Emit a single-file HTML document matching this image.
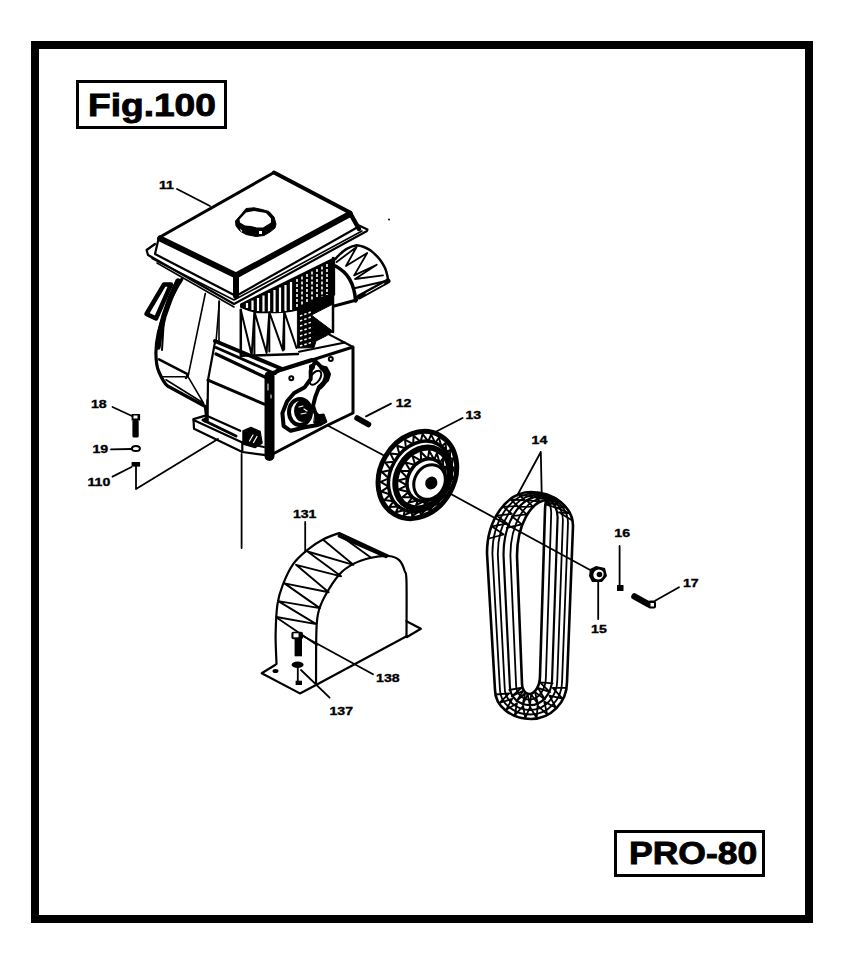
<!DOCTYPE html>
<html><head><meta charset="utf-8">
<style>
html,body{margin:0;padding:0;background:#fff;}
body{width:848px;height:956px;position:relative;overflow:hidden;font-family:"Liberation Sans",sans-serif;}
.frame{position:absolute;left:31px;top:41px;width:766px;height:866px;border:8px solid #000;}
.box{position:absolute;border:3px solid #000;box-sizing:border-box;font-weight:bold;color:#000;white-space:nowrap;}
#fig{left:76px;top:80px;width:151px;height:49px;}
#pro{left:614px;top:830px;width:151px;height:47px;}
.t{position:absolute;font-weight:bold;line-height:1;-webkit-text-stroke:0.9px #000;}
svg{position:absolute;left:0;top:0;}
.lbl{font-family:"Liberation Sans",sans-serif;font-weight:bold;fill:#000;stroke:#000;stroke-width:0.35px;}
.s{fill:none;stroke:#000;stroke-linecap:round;stroke-linejoin:round;}
</style></head><body>
<div class="frame"></div>
<div class="box" id="fig"><span class="t" style="left:9px;top:6px;font-size:32px;transform:scaleX(1.16);transform-origin:0 0;">Fig.100</span></div>
<div class="box" id="pro"><span class="t" style="left:12px;top:4px;font-size:32px;transform:scaleX(1.11);transform-origin:0 0;">PRO-80</span></div>
<svg width="848" height="956" viewBox="0 0 848 956">
<g class="lbl">
<text x="0" y="0" transform="translate(159.00 189.45) scale(1.250 1)" font-size="11.30">11</text>
<text x="0" y="0" transform="translate(91.00 407.95) scale(1.250 1)" font-size="11.30">18</text>
<text x="0" y="0" transform="translate(92.40 452.55) scale(1.250 1)" font-size="11.30">19</text>
<text x="0" y="0" transform="translate(87.50 486.40) scale(1.250 1)" font-size="11.30">110</text>
<text x="0" y="0" transform="translate(395.70 406.55) scale(1.250 1)" font-size="11.30">12</text>
<text x="0" y="0" transform="translate(465.40 418.65) scale(1.250 1)" font-size="11.30">13</text>
<text x="0" y="0" transform="translate(531.60 444.45) scale(1.250 1)" font-size="11.30">14</text>
<text x="0" y="0" transform="translate(591.10 632.85) scale(1.250 1)" font-size="11.30">15</text>
<text x="0" y="0" transform="translate(614.30 536.80) scale(1.250 1)" font-size="11.30">16</text>
<text x="0" y="0" transform="translate(683.00 587.05) scale(1.250 1)" font-size="11.30">17</text>
<text x="0" y="0" transform="translate(292.90 517.85) scale(1.250 1)" font-size="11.30">131</text>
<text x="0" y="0" transform="translate(329.50 715.35) scale(1.250 1)" font-size="11.30">137</text>
<text x="0" y="0" transform="translate(376.05 682.25) scale(1.250 1)" font-size="11.30">138</text>
</g>

<!-- leaders and axis lines -->
<g class="s" stroke-width="1.8">
<path d="M177,189 L210,206"/>
<path d="M112.5,407 L132,416"/>
<path d="M111,449.4 L131.5,449"/>
<path d="M112.5,476.6 L131.5,467"/>
<path d="M136,466 L136,489 L218,439"/>
<path d="M241.6,454 L241.6,548"/>
<path d="M328.6,426 L383,455"/>
<path d="M449,493 L592,571"/>
<path d="M391,403.6 L366,416.4"/>
<path d="M462.6,418 L434.3,432.5"/>
<path d="M540.8,452 L517.2,495.5 M540.8,452 L541.7,493.6"/>
<path d="M619.6,546 L619.6,586"/>
<path d="M598.2,582.6 L598.2,619"/>
<path d="M679,587.3 L655.1,600.8"/>
<path d="M305.2,522 L305.2,552"/>
<path d="M303,636 L373,674.3"/>
<path d="M301,670 L329.6,697.6"/>
<path d="M297.8,668 L297.8,684"/>
</g>



<!-- engine 11 -->
<g class="s">
<!-- tank top face -->
<path stroke-width="3" d="M160,237 L274,172.5"/>
<path stroke-width="4" d="M274,172.5 L350,212.5"/>
<path stroke-width="6" d="M160,238.5 L236,275.5 L350,214"/>
<!-- tank sides -->
<path stroke-width="2.2" d="M158.5,239 L155,254 L236,296 L358,227"/>
<path stroke-width="4.5" d="M350,213 L359,229"/>
<path stroke-width="6" d="M236,276 L236,296"/>
<!-- lip flange -->
<path stroke-width="2.2" d="M155,244 L146.6,250 L148,255 L234,304 L367,231 L367.5,229.5 L359,225.5"/>
<path stroke-width="1.6" d="M152,258.5 L234,300 L362,231"/>
<path stroke-width="1.6" d="M157,263 L234,307"/>
</g>
<!-- cap -->
<g>
<path d="M235.5,221 L242,213.5 L246,208.5 L254,207.8 L262,209.5 L269,211.5 L274,217 L276,224 L275,228 L270,232 L264,235.5 L256,236.5 L246,234.5 L240,231 L236,226 Z" fill="#000" stroke="#000" stroke-width="1"/>
<path d="M239.5,219.5 L246,212.5 L254,211 L266,213 L271,218.5 L271,222.5 L263,227.5 L257,227.5 L251,226 L245,225.5 L240,222.5 Z" fill="#fff"/>
<path d="M240,228.5 L242.5,231 L241,232 Z M259,231 L262,231 L262,234 L259,234 Z" fill="#fff"/>
</g>


<!-- engine lower -->
<g class="s">
<!-- fins -->
<path d="M240.8,304.2 L334.4,258 L334.4,294.8 C322,300 311,304.2 297.8,309.7 C287,312.5 277,313 257,312.4 C250,311 245,309 240.8,307 Z" fill="#000" stroke="#000" stroke-width="1.5"/>
<path stroke="#fff" stroke-width="2.2" stroke-linecap="butt" d="M247,303 L247,308 M252.5,300.5 L252.5,310 M258,298 L258,311 M263.5,295.5 L263.5,311.5 M269,293 L269,312 M274.5,290 L274.5,312 M280,287.5 L280,312 M285.5,285 L285.5,311 M291,282 L291,310"/>
<path stroke="#fff" stroke-width="1.6" stroke-dasharray="3 2" stroke-linecap="butt" d="M297,279 L297,307 M302,276.5 L302,305 M307,274 L307,303 M312,271.5 L312,301 M317,269 L317,299 M322,266.5 L322,297 M327,264 L327,295"/>
<path stroke-width="2.5" d="M333,258 L333,332"/>
<!-- cylinder dark -->
<path d="M297.8,309 L314,303 L333,295 L333,304 L311.4,315 L333,331.4 L326,336 L316,341 L314,347.6 L297.8,348 Z" fill="#000" stroke="#000" stroke-width="1"/>
<path stroke="#fff" stroke-width="1.5" stroke-dasharray="2.5 2" stroke-linecap="butt" d="M300,316 L311,312 M300,321 L311,317 M300,326 L312,322 M300,331 L313,327 M300,336 L313,332 M300,341 L313,337 M300,346 L313,342"/>
<path fill="#fff" stroke="none" d="M313.5,316 L331,306 L331,329 Z"/>
<!-- NNN -->
<path stroke-width="2.5" d="M240.8,309.7 L240.8,355.8 L298,354"/>
<path stroke-width="2" d="M240.8,310 L251.7,355 L254.4,311.5 L254.4,354 M254.4,311.5 L266.6,353 L269.3,312 L269.3,351.5 M269.3,312 L282.9,350.5 L284.2,311.5 L284.2,349.5 M284.2,311.5 L296.5,348"/>
<!-- right shroud -->
<path stroke-width="2.5" d="M335.4,259 C342,251 349,246.5 356.6,245.3 C363,246 367,248 370.8,250.6 C375,254 378,257 380.2,260 C383,264 385,267 386,270.7 C387,274 388,277 388,280.5"/>
<path stroke-width="5" d="M388,281 L359,297"/>
<path stroke="#fff" stroke-width="1" d="M384,283.5 L366,293.5"/>
<path stroke-width="3.5" d="M335.4,266 C341,269 346,273 349.5,279 C353,285 355,292 355.6,301"/>
<path stroke-width="3" d="M334.2,306 L356.6,300"/>
<path stroke-width="1.8" d="M336.6,262 L356.6,247 L346,266 L367.2,253 L354.2,275.4 L376.7,264.8 L355,279 L383,275.4 M355.5,288 L386,281"/>
<!-- recoil housing left -->
<path stroke-width="3.2" d="M181.8,279.4 C176,288 170,300 165,313 C159,327 156,340 155.9,353.1 C156,362 157,368 159,372 C162,379 165,384 167.6,386 L205.3,406.5 L207,419"/>
<path stroke-width="5.5" d="M178,281 C173,291 168,303 164,316 C161,326 159,336 158,347"/>
<path stroke-width="2" d="M176,282 C171,292 167,305 164,318 L162,350"/>
<path stroke-width="4.5" d="M146.5,314 L164,284.5 L171,284.5 L156,318.5 Z"/>
<path stroke-width="1.6" d="M205.3,293.5 L188,376.7 M219.4,301.4 L216,342"/>
<path stroke-width="2.5" d="M159,359.4 L188,374.3 L186,378"/>
<path stroke-width="1.6" d="M161.4,376.7 L185,376.7 M166,379.8 L203.7,403.3 L188,376.7"/>
<path stroke-width="1.6" d="M219,301 L219,342"/>
<!-- lower box left face -->
<path stroke-width="2.2" d="M215,342 L208,380 L207.5,416"/>
<path stroke-width="4" d="M215,341 L281,368.5"/>
<path stroke-width="2.8" d="M216,347.5 L275,373.5"/>
<path stroke-width="3.2" d="M216,354 L269,379"/>
<path stroke-width="3" d="M275,373.5 L281,368.5"/>
<path stroke-width="3" d="M208,380.1 L264.2,404.2"/>
<path stroke-width="6" d="M268,376 L268,457"/>
<!-- gearbox face -->
<path stroke-width="3" d="M268,374 L353,347 L353,413 L326,426 L268,456.5"/>
<path stroke-width="4" d="M277,371 L312,360"/>
<path stroke-width="2" d="M319.5,329.3 L353,347"/>
<path stroke-width="2" d="M299,351.8 L345,342.4"/>
<path stroke-width="10" d="M269.5,376 L269.5,456"/>
<path stroke="#fff" stroke-width="1" d="M268,384 L268,390 M271,395 L271,398"/>
<!-- gear cover -->
<path stroke-width="4" d="M315.4,361.2 L321.3,367.1 L326,368.3 L329,374.2 L327.2,380 L319,387.2 L315.4,396.6 L313,406 L315.4,413.1 L322.5,420.2 L317.8,425 L304.8,427.3 L290.7,430.8 L283.6,426 L282.4,413 L287.1,401.3 L294.2,393 L304.8,387.2 L310.7,379 L310.7,370.7 Z"/>
<ellipse cx="315.4" cy="377.7" rx="4.5" ry="8" transform="rotate(35 315.4 377.7)" stroke-width="2"/>
<path stroke-width="5" d="M322,368 C328,372 328,380 320,387"/>
<ellipse cx="300" cy="412" rx="11" ry="13" stroke-width="4"/>
<ellipse cx="303" cy="411" rx="8" ry="10" fill="#000" stroke-width="2"/>
<path stroke="#fff" stroke-width="1.2" d="M299,407 L303,406 M301,414 L306,413 M304,409 L307,411"/>
<path d="M315,415 L324,414 L327,422 L320,426 L314,423 Z" fill="#000"/>
<circle cx="330.8" cy="358.9" r="2" stroke-width="2"/>
<circle cx="291.3" cy="378.3" r="2" stroke-width="2"/>
<circle cx="311.9" cy="367" r="2" stroke-width="2"/>
<!-- base foot -->
<path stroke-width="2" d="M207.3,400 L207.3,415"/>
<path stroke-width="2.2" d="M206.2,415.4 L193.5,419.1 L194,428.7 L242.3,452 L265.7,455.2"/>
<path stroke-width="2.2" d="M193.5,420 L242.3,442.5 L242.3,452 M206.2,415.4 L240.2,430.8"/>
<path stroke-width="3" d="M203,420 L236,436"/>
<circle cx="206" cy="420" r="2.8" fill="#000" stroke="none"/>
<path d="M243,431 L251,427.5 L260,431.5 L262,443 L255,447.5 L243,444 Z" fill="#000" stroke="#000" stroke-width="1.5"/>
<path stroke="#fff" stroke-width="1.2" d="M249.5,441 L253,435 M253.5,442.5 L257,436.5"/>
<path stroke-width="2" d="M242.3,442.5 L264,447"/>
</g>

<!-- guard 131 -->
<g class="s" stroke-width="2.2">
<path d="M276.5,664.0 C276.4,659.1 275.5,644.6 275.6,634.7 C275.8,624.8 276.2,612.9 277.4,604.6 C278.6,596.3 280.0,591.9 282.7,585.1 C285.3,578.4 289.2,569.8 293.3,563.9 C297.4,558.0 302.4,553.9 307.5,549.8 C312.5,545.6 318.1,542.0 323.4,539.2 C328.7,536.4 336.6,534.0 339.3,533.0 L388.8,556"/>
<path stroke-width="3.5" d="M339.3,535.8 L386,556.5"/>
<path d="M316.0,685.0 C316.1,676.6 316.0,646.6 316.3,634.7 C316.6,622.8 316.6,619.9 318.1,613.4 C319.5,607.0 321.6,602.2 325.1,595.8 C328.7,589.3 334.6,579.8 339.3,574.5 C344.0,569.2 348.1,566.7 353.4,563.9 C358.8,561.1 365.2,559.1 371.1,557.7 C377.0,556.4 384.1,555.5 388.8,556.0 C393.5,556.4 396.8,557.9 399.4,560.4 C402.1,562.9 403.6,567.5 404.7,571.0 C405.9,574.5 406.2,570.6 406.5,581.6 C406.8,592.6 406.5,627.8 406.5,637.0"/>
<path stroke-width="1.9" d="M323.4,540.0 L353.4,564.8 L307.5,551.5 L341.1,576.3 L296.0,564.8 L328.7,592.2 L284.5,583.4 L319.8,608.1 L278.3,601.1 L316.3,624.1 L276.5,617.0"/>
<path stroke-width="1.9" d="M339.3,534.7 L371.1,557.7"/>
<path d="M275.5,664.7 L261.7,673.2 L299.9,693.4 L316,685 L407,636"/>
<path d="M406.5,621.2 L420.9,628.7 L407,637"/>
<path stroke-width="1.8" d="M276.5,617.5 L317,645"/>
</g>
<ellipse cx="275.5" cy="671" rx="3" ry="2" fill="#000"/>





<!-- pulley 13 -->
<g transform="translate(417.4,475) rotate(-60)" class="s">
<ellipse cx="0" cy="0" rx="45.5" ry="37" stroke-width="5"/>
<path stroke-width="2" d="M43.0,0.0 L36.7,6.6 L41.8,8.3 L34.6,13.5 L38.1,16.0 L30.5,19.8 L32.2,22.9 L24.5,25.1 L24.4,28.4 L17.2,29.1 L15.2,32.3 L8.9,31.6 L5.2,34.2 L-0.0,32.5 L-5.2,34.2 L-8.9,31.6 L-15.2,32.3 L-17.2,29.1 L-24.4,28.4 L-24.5,25.1 L-32.2,22.9 L-30.5,19.8 L-38.1,16.0 L-34.6,13.5 L-41.8,8.3 L-36.7,6.6 L-43.0,-0.0 L-36.7,-0.6 L-41.8,-8.3 L-34.6,-7.5 L-38.1,-16.0 L-30.5,-13.8 L-32.2,-22.9 L-24.5,-19.1 L-24.4,-28.4 L-17.2,-23.1 L-15.2,-32.3 L-8.9,-25.6 L-5.2,-34.2 L-0.0,-26.5 L5.2,-34.2 L8.9,-25.6 L15.2,-32.3 L17.2,-23.1 L24.4,-28.4 L24.5,-19.1 L32.2,-22.9 L30.5,-13.8 L38.1,-16.0 L34.6,-7.5 L41.8,-8.3 L36.7,-0.6 L43.0,0.0"/>
<ellipse cx="0" cy="3" rx="37" ry="29.5" stroke-width="3.5"/>
<ellipse cx="0" cy="6" rx="32" ry="25.5" stroke-width="6"/>
<path stroke-width="2" d="M28.5,6.0 L21.7,13.1 L26.8,13.9 L19.1,19.0 L21.8,20.8 L14.1,23.8 L14.3,25.9 L7.5,26.9 L4.9,28.7 L0.0,28.0 L-4.9,28.7 L-7.5,26.9 L-14.2,25.9 L-14.1,23.8 L-21.8,20.8 L-19.1,19.0 L-26.8,13.9 L-21.7,13.1 L-28.5,6.0 L-21.7,6.9 L-26.8,-1.9 L-19.1,1.0 L-21.8,-8.8 L-14.1,-3.8 L-14.3,-13.9 L-7.5,-6.9 L-4.9,-16.7 L-0.0,-8.0 L4.9,-16.7 L7.5,-6.9 L14.2,-13.9 L14.1,-3.8 L21.8,-8.8 L19.1,1.0 L26.8,-1.9 L21.7,6.9 L28.5,6.0"/>
<ellipse cx="0" cy="10" rx="22" ry="18" stroke-width="3.5"/>
<ellipse cx="0" cy="14" rx="18" ry="15" fill="#fff" stroke-width="3"/>
<ellipse cx="0" cy="16" rx="6.5" ry="6" fill="#000" stroke="none"/>
</g>

<!-- belt 14 -->
<g class="s">
<path stroke-width="2.6" d="M487.0,553.0 C487.0,519.5 506.8,492.0 531.0,492.0 C554.1,492.0 573.0,507.3 573.0,526.0 C573.0,526.0 567.0,682.0 567.0,682.0 C567.0,702.4 550.8,719.0 531.0,719.0 C511.2,719.0 495.0,706.0 495.0,690.0 C495.0,690.0 487.0,553.0 487.0,553.0 Z"/>
<path stroke-width="1.8" d="M492.4,553.5 C492.4,520.5 511.1,493.4 534.1,493.4 C552.7,493.4 568.0,506.8 568.0,523.1 C568.0,523.1 562.1,680.9 562.1,680.9 C562.1,699.4 548.0,714.5 530.6,714.5 C513.7,714.5 499.9,703.0 499.9,688.9 C499.9,688.9 492.4,553.5 492.4,553.5 Z"/>
<path stroke-width="1.8" d="M497.8,554.1 C497.8,521.5 515.5,494.9 537.1,494.9 C551.3,494.9 562.9,506.3 562.9,520.2 C562.9,520.2 557.3,679.8 557.3,679.8 C557.3,696.4 545.1,710.0 530.3,710.0 C516.2,710.0 504.7,700.0 504.7,687.8 C504.7,687.8 497.8,554.1 497.8,554.1 Z"/>
<path stroke-width="2.2" d="M503.5,554.6 C503.5,522.6 520.1,496.4 540.4,496.4 C549.8,496.4 557.6,505.8 557.6,517.2 C557.6,517.2 552.1,678.7 552.1,678.7 C552.1,693.3 542.1,705.2 529.9,705.2 C518.9,705.2 509.9,696.9 509.9,686.7 C509.9,686.7 503.5,554.6 503.5,554.6 Z"/>
<path stroke-width="1.8" d="M510.4,555.3 C510.4,523.9 525.6,498.2 544.3,498.2 C548.1,498.2 551.2,505.1 551.2,513.5 C551.2,513.5 545.9,677.3 545.9,677.3 C545.9,689.5 538.5,699.5 529.4,699.5 C522.1,699.5 516.1,693.1 516.1,685.3 C516.1,685.3 510.4,555.3 510.4,555.3 Z"/>
<path stroke-width="2.6" d="M517.0,556.0 C517.0,525.2 531.0,500.0 548.0,500.0 C546.4,500.0 545.0,504.5 545.0,510.0 C545.0,510.0 540.0,676.0 540.0,676.0 C540.0,685.9 535.0,694.0 529.0,694.0 C525.1,694.0 522.0,689.5 522.0,684.0 C522.0,684.0 517.0,556.0 517.0,556.0 Z"/>
<path stroke-width="1.8" d="M488.9,538.5 L503.7,534.5 L492.0,526.4 L507.1,523.5 L496.9,515.7 L511.9,513.9 L503.1,506.6 L517.9,506.1 L510.6,499.5 L524.8,500.3 L519.1,494.6 L532.5,496.8 L528.3,492.3 L540.0,495.9 L537.5,492.5 L544.3,496.6 L545.9,494.4 L548.4,498.3 L553.6,497.5 L551.9,500.8 L560.2,501.9 L554.9,504.1 L565.6,507.2 L557.2,508.0 L569.6,513.4 L558.8,512.3 L571.9,520.3"/>
<path stroke-width="1.8" d="M506.8,527.8 L521.8,524.4 L511.8,516.2 L526.7,514.3 L518.4,506.9 L532.9,506.6 L526.3,500.2 L539.9,501.6 L535.1,496.6 L547.7,499.8 L542.2,496.3 L547.1,500.2 L546.6,497.6 L546.7,501.1 L550.5,500.1 L546.3,502.5 L553.8,503.6 L545.9,504.4 L556.4,507.8"/>
<path stroke-width="1.8" d="M566.0,687.8 L552.8,687.9 L562.5,698.7 L549.4,695.6 L556.0,707.7 L544.2,701.6 L547.2,714.4 L537.6,705.6 L536.7,718.0 L530.0,707.0 L525.2,718.1 L523.1,706.0 L514.7,715.3 L517.0,703.2 L505.9,710.1 L512.2,698.8 L499.5,703.0 L509.1,693.4 L496.0,694.5"/>
<path stroke-width="1.8" d="M552.7,683.3 L539.9,682.3 L550.0,692.2 L537.9,687.8 L544.9,699.5 L534.9,691.9 L538.1,704.3 L531.1,694.2 L530.0,706.0 L527.7,694.3 L522.6,704.8 L525.2,693.0 L516.4,701.4 L523.2,690.7 L511.8,696.3 L521.9,687.6 L509.3,690.0"/>
</g>
<!-- small hardware -->
<g>
<circle cx="389" cy="219.5" r="1" fill="#000"/>
<rect x="131.6" y="414" width="8.5" height="6.5" fill="#000"/>
<rect x="133.5" y="415.5" width="4" height="3" fill="#fff"/>
<rect x="132.4" y="420" width="6.3" height="17.4" rx="1.5" fill="#000"/>
<ellipse cx="135.9" cy="448.5" rx="4" ry="2.6" fill="none" stroke="#000" stroke-width="2"/>
<rect x="131.6" y="462" width="8.5" height="4.6" fill="#000"/>
<path class="s" stroke-width="5.5" d="M357,418 L368.5,424.5"/>
<path d="M590,569 L596,566 L605,568 L607,576 L602,582 L592,582 L589,576 Z" fill="#000"/>
<ellipse cx="598.5" cy="574.5" rx="5.3" ry="4.8" fill="#fff" transform="rotate(-30 598.5 574.5)"/>
<ellipse cx="599.5" cy="574.5" rx="2.8" ry="2.8" fill="#000"/>
<rect x="617" y="585" width="6.5" height="6" fill="#000"/>
<path class="s" stroke-width="6.5" d="M634.5,596.5 L648,604"/>
<rect x="648" y="600.5" width="8" height="8" rx="2" fill="#000"/>
<rect x="650.5" y="603" width="3.5" height="3.5" fill="#fff"/>
<rect x="291.4" y="631.8" width="11.6" height="7.5" rx="2" fill="#000"/>
<rect x="293.5" y="633.3" width="5" height="4" fill="#fff"/>
<rect x="294.6" y="639" width="7.4" height="17.3" fill="#000"/>
<ellipse cx="297.6" cy="664.8" rx="6" ry="3.2" fill="#000"/>
<rect x="295.6" y="680.7" width="6.4" height="4.3" fill="#000"/>
</g>
</svg>
</body></html>
